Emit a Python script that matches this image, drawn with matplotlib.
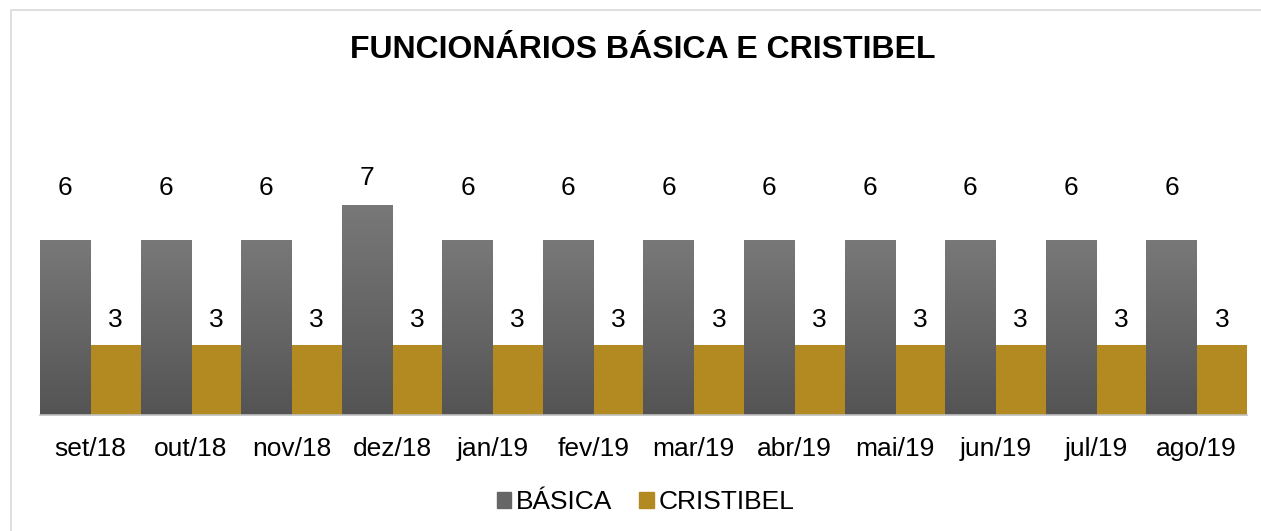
import matplotlib.pyplot as plt
import numpy as np
from matplotlib.colors import LinearSegmentedColormap
from matplotlib.patches import Rectangle, Patch

plt.rcParams["font.family"] = ["Liberation Sans", "DejaVu Sans"]

meses = ["set/18", "out/18", "nov/18", "dez/18", "jan/19", "fev/19",
         "mar/19", "abr/19", "mai/19", "jun/19", "jul/19", "ago/19"]
basica = [6, 6, 6, 7, 6, 6, 6, 6, 6, 6, 6, 6]
cristibel = [3, 3, 3, 3, 3, 3, 3, 3, 3, 3, 3, 3]

cor_cristibel = "#B38A22"
y_min = 1

fig = plt.figure(figsize=(12.61, 5.31), dpi=100)
# moldura cinza clara em volta do grafico
fig.patches.append(Rectangle((11 / 1261, -0.01), 1.02, (531 - 10) / 531 + 0.01,
                             transform=fig.transFigure, fill=False,
                             edgecolor="#d9d9d9", linewidth=1.2))

ax = fig.add_axes([40 / 1261, (531 - 415) / 531, (1247 - 40) / 1261, (415 - 170) / 531])

x = np.arange(len(meses))
w = 0.5
barras_b = ax.bar(x - w / 2, np.array(basica) - y_min, w, bottom=y_min, color="#666666")
barras_c = ax.bar(x + w / 2, np.array(cristibel) - y_min, w, bottom=y_min,
                  color=cor_cristibel)

# gradiente nas barras da Basica
grad = np.linspace(0, 1, 256).reshape(-1, 1)
cmap = LinearSegmentedColormap.from_list("cinza", ["#545454", "#787878"])
for b in barras_b:
    x0, y0 = b.get_x(), b.get_y()
    im = ax.imshow(grad, cmap=cmap, aspect="auto", origin="lower",
                   extent=[x0, x0 + b.get_width(), y0, y0 + b.get_height()], zorder=2)
    im.set_clip_path(b)

for i in range(len(meses)):
    ax.text(x[i] - w / 2, max(basica[i] + 0.77, 7.49), str(basica[i]), ha="center",
            va="center", fontsize=19, color="#000000", clip_on=False)
    ax.text(x[i] + w / 2, cristibel[i] + 0.71, str(cristibel[i]), ha="center",
            va="center", fontsize=19, color="#000000")

ax.set_xlim(-0.5, len(meses) - 0.5)
ax.set_ylim(y_min, 8)
ax.set_xticks(x)
ax.set_xticklabels(meses, fontsize=19)
ax.tick_params(axis="x", length=0, pad=16)
ax.set_yticks([])
for s in ["top", "right", "left"]:
    ax.spines[s].set_visible(False)
ax.spines["bottom"].set_color("#bfbfbf")
ax.spines["bottom"].set_linewidth(1.2)

fig.text(0.51, (531 - 50) / 531, "FUNCIONÁRIOS BÁSICA E CRISTIBEL", ha="center",
         va="center", fontsize=23, fontweight="bold")

fig.legend(handles=[Patch(color="#666666", label="BÁSICA"),
                    Patch(color=cor_cristibel, label="CRISTIBEL")],
           loc="center", bbox_to_anchor=(0.512, (531 - 502) / 531), ncol=2,
           frameon=False, fontsize=19, handlelength=0.55, handleheight=0.55,
           handletextpad=0.2, columnspacing=1.0)

fig.savefig("out.png", dpi=100)
